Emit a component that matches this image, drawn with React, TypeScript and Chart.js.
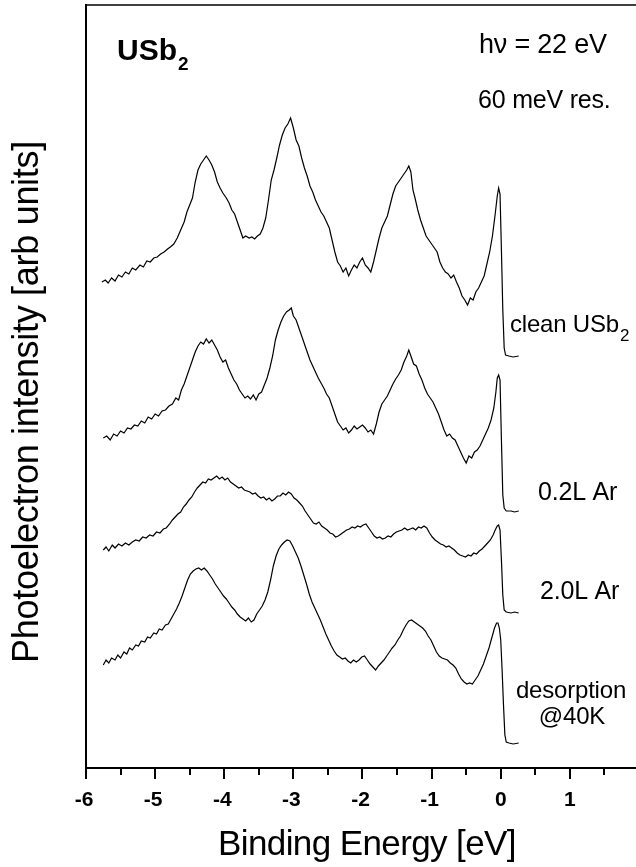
import React, { useEffect, useRef } from "react";
import { Chart, registerables } from "chart.js";

Chart.register(...registerables);

const FONT = '"Liberation Sans", Arial, Helvetica, sans-serif';

// ---- Data (binding energy in eV, intensity in arbitrary units) ----
const cleanEnergy = [
  -5.77, -5.72, -5.68, -5.63, -5.58, -5.53, -5.48, -5.43, -5.38, -5.33, -5.28, -5.22, -5.17, -5.12, -5.07, -5.02,
  -4.97, -4.92, -4.87, -4.82, -4.78, -4.73, -4.68, -4.63, -4.58, -4.54, -4.5, -4.46, -4.42, -4.38, -4.34, -4.3,
  -4.26, -4.22, -4.18, -4.14, -4.1, -4.06, -4.02, -3.97, -3.93, -3.89, -3.85, -3.81, -3.77, -3.73, -3.69, -3.64,
  -3.6, -3.56, -3.52, -3.48, -3.44, -3.4, -3.36, -3.32, -3.28, -3.24, -3.2, -3.16, -3.12, -3.08, -3.04, -3.0,
  -2.96, -2.92, -2.88, -2.84, -2.8, -2.76, -2.72, -2.68, -2.64, -2.6, -2.56, -2.52, -2.48, -2.44, -2.4, -2.36,
  -2.32, -2.28, -2.24, -2.2, -2.16, -2.12, -2.08, -2.04, -2.0, -1.96, -1.92, -1.88, -1.84, -1.8, -1.76, -1.72,
  -1.68, -1.64, -1.6, -1.56, -1.52, -1.48, -1.44, -1.4, -1.36, -1.33, -1.3, -1.27, -1.24, -1.2, -1.16, -1.12,
  -1.08, -1.04, -1.0, -0.96, -0.92, -0.88, -0.84, -0.8, -0.76, -0.72, -0.68, -0.64, -0.6, -0.56, -0.52, -0.48,
  -0.44, -0.4, -0.36, -0.32, -0.28, -0.24, -0.2, -0.16, -0.12, -0.08, -0.05, -0.03, -0.01, 0.01, 0.03, 0.05,
  0.07, 0.12, 0.18, 0.26,
];
const cleanIntensity = [
  485, 487, 484, 489, 486, 492, 490, 495, 493, 499, 497, 502, 500, 506, 505, 509,
  510, 513, 515, 518, 520, 523, 529, 537, 545, 555, 562, 569, 585, 597, 603, 607,
  611, 607, 602, 595, 585, 579, 574, 569, 564, 557, 553, 545, 537, 529, 531, 529,
  530, 528, 531, 533, 539, 549, 567, 587, 597, 609, 622, 632, 639, 643, 649, 639,
  627, 621, 609, 599, 591, 581, 575, 567, 561, 555, 551, 545, 539, 527, 515, 505,
  501, 495, 499, 491, 497, 502, 499, 505, 509, 502, 499, 495, 505, 517, 529, 539,
  545, 551, 562, 573, 581, 585, 589, 593, 597, 601, 595, 577, 569, 557, 547, 539,
  531, 527, 523, 519, 515, 505, 499, 495, 493, 489, 492, 485, 479, 471, 467, 462,
  469, 467, 475, 479, 485, 491, 503, 515, 531, 553, 571, 579, 573, 517, 457, 419,
  412, 411, 410, 411,
];

const ar02Energy = [
  -5.75, -5.7, -5.65, -5.6, -5.55, -5.5, -5.45, -5.4, -5.35, -5.3, -5.25, -5.2, -5.15, -5.1, -5.05, -5.0,
  -4.95, -4.9, -4.85, -4.8, -4.75, -4.7, -4.66, -4.62, -4.58, -4.54, -4.5, -4.46, -4.42, -4.38, -4.34, -4.3,
  -4.26, -4.22, -4.18, -4.14, -4.1, -4.06, -4.02, -3.98, -3.94, -3.9, -3.86, -3.82, -3.78, -3.74, -3.7, -3.66,
  -3.62, -3.58, -3.54, -3.5, -3.46, -3.42, -3.38, -3.34, -3.3, -3.26, -3.22, -3.18, -3.14, -3.1, -3.06, -3.03,
  -3.0, -2.96, -2.92, -2.88, -2.84, -2.8, -2.76, -2.72, -2.68, -2.64, -2.6, -2.56, -2.52, -2.48, -2.44, -2.4,
  -2.36, -2.32, -2.28, -2.24, -2.2, -2.16, -2.12, -2.08, -2.04, -2.0, -1.96, -1.92, -1.88, -1.84, -1.8, -1.76,
  -1.72, -1.68, -1.64, -1.6, -1.56, -1.52, -1.48, -1.44, -1.4, -1.36, -1.33, -1.3, -1.26, -1.22, -1.18, -1.14,
  -1.1, -1.06, -1.02, -0.98, -0.94, -0.9, -0.86, -0.82, -0.78, -0.74, -0.7, -0.66, -0.62, -0.58, -0.54, -0.5,
  -0.46, -0.42, -0.38, -0.34, -0.3, -0.26, -0.22, -0.18, -0.14, -0.1, -0.07, -0.05, -0.03, -0.01, 0.01, 0.03,
  0.05, 0.08, 0.15, 0.2, 0.26,
];
const ar02Intensity = [
  329, 331, 327, 333, 331, 336, 334, 339, 338, 342, 341, 346, 344, 350, 348, 353,
  351, 356, 357, 361, 363, 369, 367, 377, 383, 391, 399, 407, 415, 421, 425, 423,
  428, 424, 427, 422, 417, 410, 405, 407, 399, 393, 387, 383, 377, 373, 369, 371,
  368, 372, 367, 373, 375, 382, 389, 399, 411, 427, 437, 445, 451, 455, 457, 459,
  451, 447, 439, 431, 423, 415, 407, 401, 395, 389, 384, 379, 373, 369, 361, 353,
  345, 341, 337, 339, 334, 337, 341, 338, 340, 342, 339, 335, 337, 333, 343, 355,
  363, 367, 371, 377, 383, 388, 392, 397, 405, 411, 417, 411, 403, 401, 393, 387,
  379, 373, 369, 365, 359, 353, 345, 337, 331, 333, 329, 327, 321, 315, 309, 304,
  311, 309, 315, 317, 321, 327, 333, 339, 347, 359, 375, 389, 392, 387, 327, 272,
  259, 256, 256, 255, 256,
];

const ar20Energy = [
  -5.75, -5.71, -5.67, -5.62, -5.58, -5.53, -5.48, -5.43, -5.38, -5.33, -5.28, -5.23, -5.18, -5.13, -5.08, -5.03,
  -4.98, -4.93, -4.88, -4.84, -4.79, -4.75, -4.71, -4.67, -4.63, -4.59, -4.55, -4.51, -4.47, -4.43, -4.39, -4.35,
  -4.31, -4.27, -4.23, -4.19, -4.15, -4.11, -4.07, -4.03, -3.99, -3.95, -3.91, -3.87, -3.83, -3.79, -3.75, -3.71,
  -3.67, -3.63, -3.59, -3.55, -3.51, -3.47, -3.43, -3.39, -3.35, -3.31, -3.27, -3.23, -3.19, -3.15, -3.11, -3.07,
  -3.03, -2.99, -2.95, -2.91, -2.87, -2.83, -2.79, -2.75, -2.71, -2.67, -2.63, -2.59, -2.55, -2.51, -2.47, -2.43,
  -2.39, -2.35, -2.31, -2.27, -2.23, -2.19, -2.15, -2.11, -2.07, -2.03, -1.99, -1.95, -1.91, -1.87, -1.83, -1.79,
  -1.75, -1.71, -1.67, -1.63, -1.59, -1.55, -1.51, -1.47, -1.43, -1.39, -1.35, -1.31, -1.27, -1.23, -1.19, -1.15,
  -1.11, -1.07, -1.03, -0.99, -0.95, -0.91, -0.87, -0.83, -0.79, -0.75, -0.71, -0.67, -0.63, -0.59, -0.55, -0.51,
  -0.47, -0.43, -0.39, -0.35, -0.31, -0.27, -0.23, -0.19, -0.15, -0.11, -0.08, -0.05, -0.03, -0.01, 0.01, 0.03,
  0.05, 0.08, 0.15, 0.2, 0.26,
];
const ar20Intensity = [
  217, 220, 216, 222, 219, 223, 221, 224, 222, 225, 227, 226, 230, 229, 232, 231,
  235, 234, 238, 239, 243, 247, 250, 253, 255, 260, 263, 267, 270, 275, 279, 282,
  285, 284, 288, 287, 289, 291, 288, 290, 287, 289, 285, 283, 281, 279, 280, 277,
  276, 275, 273, 274, 271, 269, 270, 267, 269, 266, 268, 271, 271, 274, 272, 275,
  273, 269, 267, 264, 261, 256, 252, 248, 244, 243, 245, 241, 239, 237, 234, 233,
  230, 231, 233, 235, 237, 238, 240, 239, 241, 240, 242, 243, 239, 235, 231, 229,
  230, 228, 229, 231, 230, 233, 235, 236, 237, 239, 237, 238, 239, 237, 240, 239,
  241, 239, 234, 230, 227, 225, 223, 222, 220, 221, 219, 217, 214, 212, 211, 210,
  212, 211, 214, 213, 216, 218, 221, 224, 227, 232, 237, 241, 242, 237, 207, 172,
  157, 155, 154, 155, 154,
];

const desorbEnergy = [
  -5.75, -5.71, -5.67, -5.63, -5.58, -5.54, -5.5, -5.45, -5.41, -5.37, -5.33, -5.28, -5.24, -5.2, -5.15, -5.11,
  -5.07, -5.02, -4.98, -4.94, -4.9, -4.85, -4.81, -4.77, -4.73, -4.69, -4.65, -4.61, -4.57, -4.53, -4.49, -4.45,
  -4.41, -4.37, -4.33, -4.29, -4.25, -4.21, -4.17, -4.13, -4.09, -4.05, -4.01, -3.97, -3.93, -3.89, -3.85, -3.81,
  -3.77, -3.73, -3.69, -3.65, -3.61, -3.57, -3.53, -3.49, -3.45, -3.41, -3.37, -3.33, -3.29, -3.25, -3.21, -3.17,
  -3.13, -3.09, -3.05, -3.01, -2.97, -2.93, -2.89, -2.85, -2.81, -2.77, -2.73, -2.69, -2.65, -2.61, -2.57, -2.53,
  -2.49, -2.45, -2.41, -2.37, -2.33, -2.29, -2.25, -2.21, -2.17, -2.13, -2.09, -2.05, -2.01, -1.97, -1.93, -1.89,
  -1.85, -1.81, -1.77, -1.73, -1.69, -1.65, -1.61, -1.57, -1.53, -1.49, -1.45, -1.41, -1.37, -1.33, -1.29, -1.25,
  -1.21, -1.17, -1.13, -1.09, -1.05, -1.01, -0.97, -0.93, -0.89, -0.85, -0.81, -0.77, -0.73, -0.69, -0.65, -0.61,
  -0.57, -0.53, -0.49, -0.45, -0.41, -0.37, -0.33, -0.29, -0.25, -0.21, -0.17, -0.13, -0.09, -0.06, -0.04, -0.02,
  0.0, 0.02, 0.04, 0.06, 0.08, 0.12, 0.18, 0.26,
];
const desorbIntensity = [
  102, 107, 104, 109, 107, 112, 109, 115, 113, 119, 117, 122, 121, 126, 125, 130,
  129, 134, 133, 138, 137, 142, 143, 148, 153, 158, 164, 171, 179, 187, 193, 196,
  198, 199, 197, 199, 196, 192, 188, 183, 179, 175, 171, 168, 164, 160, 157, 153,
  150, 148, 146, 149, 145, 147, 153, 157, 161, 167, 175, 187, 201, 211, 218, 222,
  225, 227, 226, 221, 215, 209, 201, 192, 183, 173, 165, 159, 153, 147, 140, 133,
  127, 121, 116, 112, 110, 108, 109, 106, 104, 107, 105, 107, 110, 111, 107, 103,
  100, 97, 101, 104, 107, 111, 115, 119, 122, 127, 131, 137, 142, 146, 147, 145,
  143, 141, 139, 136, 131, 127, 121, 115, 111, 109, 108, 107, 104, 102, 99, 93,
  88, 85, 83, 84, 83, 87, 91, 97, 103, 111, 119, 129, 139, 144, 144, 139,
  127, 97, 62, 32, 25, 24, 23, 24,
];

const xTickValues = [-6, -5.5, -5, -4.5, -4, -3.5, -3, -2.5, -2, -1.5, -1, -0.5, 0, 0.5, 1, 1.5];
const xMajorValues = [-6, -5, -4, -3, -2, -1, 0, 1];
const xMajorLabels = ["-6", "-5", "-4", "-3", "-2", "-1", "0", "1"];

const seriesNames = ["clean USb2", "0.2L Ar", "2.0L Ar", "desorption @40K"];
const seriesEnergies = [cleanEnergy, ar02Energy, ar20Energy, desorbEnergy];
const seriesIntensities = [cleanIntensity, ar02Intensity, ar20Intensity, desorbIntensity];

const xTitle = "Binding Energy [eV]";
const yTitle = "Photoelectron intensity [arb units]";

const W = 636;
const H = 867;

const decorPlugin = {
  id: "decor",
  afterDraw(chart: any) {
    const { ctx, chartArea, scales } = chart;
    const xs = scales.x;
    ctx.save();
    ctx.strokeStyle = "#000";
    ctx.fillStyle = "#000";
    ctx.lineCap = "butt";
    // axes frame
    ctx.lineWidth = 2;
    ctx.beginPath();
    ctx.moveTo(chartArea.left, chartArea.top - 1);
    ctx.lineTo(chartArea.left, chartArea.bottom + 1);
    ctx.lineTo(W, chartArea.bottom + 1);
    ctx.stroke();
    ctx.lineWidth = 1.5;
    ctx.beginPath();
    ctx.moveTo(chartArea.left, chartArea.top);
    ctx.lineTo(W, chartArea.top);
    ctx.stroke();
    // ticks
    ctx.lineWidth = 2;
    for (const v of xTickValues) {
      const px = Math.round(xs.getPixelForValue(v));
      const len = Number.isInteger(v) ? 11 : 7;
      ctx.beginPath();
      ctx.moveTo(px, chartArea.bottom + 1);
      ctx.lineTo(px, chartArea.bottom + 1 + len);
      ctx.stroke();
    }
    // tick labels
    ctx.textBaseline = "alphabetic";
    ctx.textAlign = "center";
    ctx.font = `bold 21px ${FONT}`;
    xMajorValues.forEach((v, i) => {
      const px = xs.getPixelForValue(v);
      const lbl = xMajorLabels[i];
      ctx.fillText(lbl, px - (lbl.startsWith("-") ? 2 : 0), 806);
    });
    // axis titles
    ctx.font = `35px ${FONT}`;
    (ctx as any).letterSpacing = "-0.6px";
    ctx.fillText(xTitle, 367, 855);
    ctx.save();
    ctx.translate(38, 402);
    ctx.rotate(-Math.PI / 2);
    ctx.font = `36px ${FONT}`;
    (ctx as any).letterSpacing = "-0.3px";
    ctx.fillText(yTitle, 0, 0);
    ctx.restore();
    (ctx as any).letterSpacing = "0px";

    // annotations
    ctx.textAlign = "left";
    ctx.font = `bold 30px ${FONT}`;
    ctx.fillText("USb", 117, 60);
    let w = ctx.measureText("USb").width;
    ctx.font = `bold 19px ${FONT}`;
    ctx.fillText("2", 117 + w + 1, 70);

    ctx.font = `27px ${FONT}`;
    (ctx as any).letterSpacing = "-0.2px";
    ctx.fillText("h\u03bd = 22 eV", 479, 53);
    ctx.font = `25px ${FONT}`;
    ctx.fillText("60 meV res.", 478, 108);

    ctx.font = `24px ${FONT}`;
    (ctx as any).letterSpacing = "-0.2px";
    ctx.fillText("clean USb", 510, 332);
    w = ctx.measureText("clean USb").width;
    ctx.font = `17px ${FONT}`;
    ctx.fillText("2", 510 + w + 1, 341);
    ctx.font = `25px ${FONT}`;
    ctx.fillText("0.2L Ar", 538, 500);
    ctx.fillText("2.0L Ar", 540, 599);
    ctx.textAlign = "center";
    ctx.font = `24px ${FONT}`;
    ctx.fillText("desorption", 571, 698);
    ctx.fillText("@40K", 572, 724);
    (ctx as any).letterSpacing = "0px";
    ctx.restore();
  },
};

export default function App() {
  const ref = useRef<HTMLCanvasElement | null>(null);

  useEffect(() => {
    document.body.style.margin = "0";
    const canvas = ref.current;
    if (!canvas) return;
    const datasets = seriesNames.map((name, i) => ({
      label: name,
      data: seriesEnergies[i].map((e, j) => ({ x: e, y: seriesIntensities[i][j] })),
      borderColor: "#000",
      borderWidth: 1.2,
      pointRadius: 0,
      tension: 0,
      fill: false,
    }));
    const chart = new Chart(canvas, {
      type: "line",
      data: { datasets },
      options: {
        animation: false,
        responsive: false,
        devicePixelRatio: 1,
        layout: { padding: { top: 5, left: 0, right: 0, bottom: 0 } },
        plugins: { legend: { display: false }, tooltip: { enabled: false } },
        scales: {
          x: {
            type: "linear",
            min: -6,
            max: 1.957,
            afterFit: (s: any) => {
              s.height = 100;
            },
            afterBuildTicks: (s: any) => {
              s.ticks = xTickValues.map((v) => ({ value: v }));
            },
            grid: { display: false, drawTicks: false },
            border: { display: false },
            ticks: { display: false },
          },
          y: {
            type: "linear",
            min: 0,
            max: 762,
            afterFit: (s: any) => {
              s.width = 86;
            },
            grid: { display: false, drawTicks: false },
            border: { display: false },
            ticks: { display: false },
          },
        },
      },
      plugins: [decorPlugin],
    });
    return () => chart.destroy();
  }, []);

  return (
    <div style={{ width: W, height: H, position: "relative", background: "#fff" }}>
      <canvas ref={ref} width={W} height={H} style={{ display: "block" }} />
    </div>
  );
}
